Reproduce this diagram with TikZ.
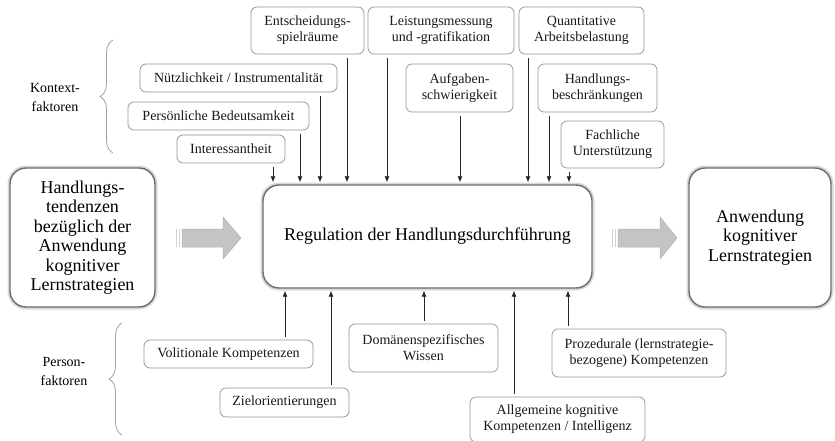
\documentclass[tikz,border=0pt]{standalone}
\usepackage{fontspec}
\setmainfont{Liberation Serif}
\newfontfamily\timesfont{Liberation Serif}
\usetikzlibrary{arrows.meta,decorations.pathreplacing}
\begin{document}
\begin{tikzpicture}[x=1pt,y=-1pt,
  every node/.style={font=\timesfont},
  factor/.style={draw=gray!85, line width=0.7pt, rounded corners=6pt, align=center,
    inner sep=2pt, fill=white, font=\timesfont\fontsize{14}{16}\selectfont, text=black!90},
  mainbox/.style={draw=gray!85!black, line width=1.4pt, rounded corners=16pt, align=center,
    fill=white, preaction={draw=gray!30, line width=5pt},
    font=\timesfont\fontsize{18}{19.5}\selectfont, inner sep=4pt},
  grouplabel/.style={align=center, font=\timesfont\fontsize{14}{19}\selectfont},
  arr/.style={draw=black!85, line width=0.8pt, -{Latex[length=6pt,width=5pt]}},
  fatarrow/.style={fill=gray!46, draw=gray!60, line width=0.5pt},
  stripe/.style={fill=gray!35},
  bracket/.style={draw=gray!75, line width=0.8pt,
    decorate, decoration={brace, amplitude=13pt}}
]
\useasboundingbox (0,0) rectangle (835,441);

% central and outer boxes
\node[mainbox, minimum width=329pt, minimum height=103pt] (reg) at (427.5,236.5)
  {Regulation der Handlungsdurchführung};
\node[mainbox, minimum width=145pt, minimum height=139pt] (tend) at (82.5,237.5)
  {Handlungs-\\tendenzen\\bezüglich der\\Anwendung\\kognitiver\\Lernstrategien};
\node[mainbox, minimum width=142pt, minimum height=139pt] (anw) at (760,237.5)
  {Anwendung\\kognitiver\\Lernstrategien};

% context factors
\node[factor, minimum width=113pt, minimum height=47pt] (ent) at (307.5,30.5) {Entscheidungs-\\spielräume};
\node[factor, minimum width=146pt, minimum height=47pt] (lei) at (441,30.5) {Leistungsmessung\\und -gratifikation};
\node[factor, minimum width=125pt, minimum height=47pt] (qua) at (581.5,30.5) {Quantitative\\Arbeitsbelastung};
\node[factor, minimum width=197pt, minimum height=28pt] (nue) at (238.5,78) {Nützlichkeit / Instrumentalität};
\node[factor, minimum width=181pt, minimum height=28pt] (per) at (218.5,116) {Persönliche Bedeutsamkeit};
\node[factor, minimum width=108pt, minimum height=28pt] (int) at (231,149) {Interessantheit};
\node[factor, minimum width=107pt, minimum height=48pt] (auf) at (459.5,88) {Aufgaben-\\schwierigkeit};
\node[factor, minimum width=119pt, minimum height=48pt] (hbs) at (597.5,88) {Handlungs-\\beschränkungen};
\node[factor, minimum width=103pt, minimum height=47pt] (fac) at (612.5,144.5) {Fachliche\\Unterstützung};

% person factors
\node[factor, minimum width=169pt, minimum height=28pt] (vol) at (228.5,354) {Volitionale Kompetenzen};
\node[factor, minimum width=129pt, minimum height=29pt] (zie) at (284.5,402.5) {Zielorientierungen};
\node[factor, minimum width=149pt, minimum height=48pt] (dom) at (423.5,348) {Domänenspezifisches\\Wissen};
\node[factor, minimum width=174pt, minimum height=48pt] (pro) at (639,353) {Prozedurale (lernstrategie-\\bezogene) Kompetenzen};
\node[factor, minimum width=175pt, minimum height=45pt] (all) at (557.5,419.5) {Allgemeine kognitive\\Kompetenzen / Intelligenz};

% group labels and braces
\node[grouplabel] (kon) at (55,97) {Kontext-\\faktoren};
\node[grouplabel] (pers) at (64,371) {Person-\\faktoren};
\draw[bracket] (113,153) -- (113,40);
\draw[bracket] (122,435) -- (122,323);

% arrow columns
\foreach \n/\x in {int/273, per/300, nue/320, ent/347, lei/387, auf/460, qua/528, hbs/549, fac/569}{
  \coordinate (t-\n) at (\x,0);
  \draw[arr, shorten <=4pt, shorten >=2pt] (\n.south -| t-\n) -- (reg.north -| t-\n);
}
\foreach \n/\x in {vol/285, zie/331, dom/424, all/514, pro/568}{
  \coordinate (b-\n) at (\x,0);
  \draw[arr, shorten <=3pt, shorten >=2pt] (\n.north -| b-\n) -- (reg.south -| b-\n);
}

% striped block arrows
\draw[fatarrow] (182,229) -- (223,229) -- (223,217) -- (241,238) -- (223,259) -- (223,247) -- (182,247) -- cycle;
\fill[stripe] (176,229) rectangle (177.3,247);
\fill[stripe] (178.6,229) rectangle (180.2,247);
\draw[fatarrow] (618,229) -- (660,229) -- (660,217) -- (677,238) -- (660,259) -- (660,247) -- (618,247) -- cycle;
\fill[stripe] (612,229) rectangle (613.3,247);
\fill[stripe] (614.6,229) rectangle (616.2,247);
\end{tikzpicture}
\end{document}
